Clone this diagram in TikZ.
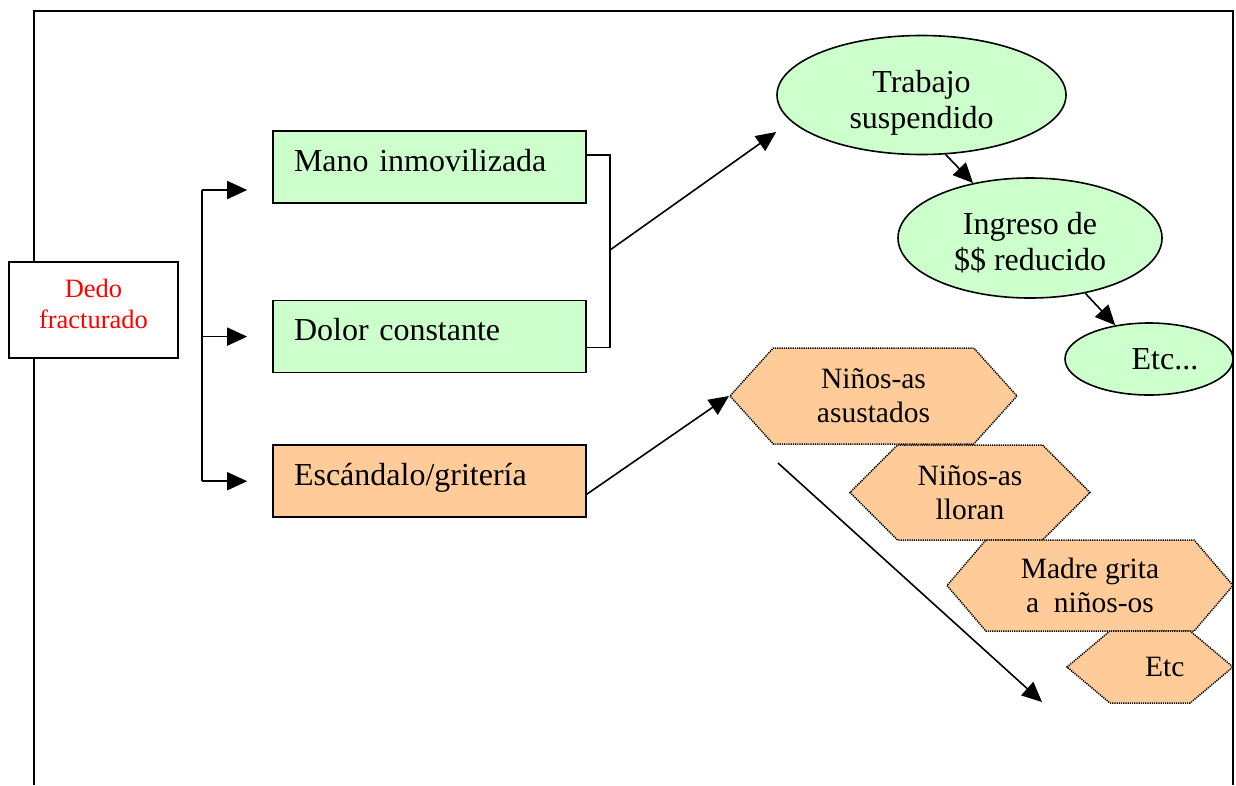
\documentclass[tikz,border=0pt]{standalone}
\usepackage{fontspec}
\setmainfont{Liberation Serif}
\usetikzlibrary{arrows.meta,positioning,shapes.geometric,shapes.symbols}

\definecolor{verde}{HTML}{CCFFCC}
\definecolor{naranja}{HTML}{FFCC99}

\begin{document}
\begin{tikzpicture}[x=1pt,y=-1pt,->,>={Triangle[length=20pt,width=18pt]},line width=1.6pt,
  root node/.style={rectangle,fill=white,draw,text=red,align=center,inner sep=0pt,
    minimum width=169pt,minimum height=96pt,font=\fontsize{26.5}{31}\selectfont},
  rec node/.style={rectangle,fill=verde,draw,align=left,inner xsep=21pt,text width=271pt,
    minimum height=72pt,text height=22pt,text depth=14pt,font=\fontsize{32}{36}\selectfont},
  ell node/.style={ellipse,fill=verde,draw,align=center,inner sep=0pt,
    font=\fontsize{32}{36}\selectfont},
  hex node/.style={signal,signal to=west and east,fill=naranja,draw,line width=1.5pt,
    dash pattern=on 1.2pt off 1pt,align=center,inner sep=0pt,font=\fontsize{29.5}{34}\selectfont}]

  \useasboundingbox (0,0) rectangle (1236,785);
  \draw[-,line width=2pt] (34,785) |- (1233,11) -- (1233,785);

  \node[root node] (dedo) at (93.5,310) {Dedo\\fracturado\rule[-12pt]{0pt}{0pt}};
  \node[rec node] (mano) at (429.5,167) {Mano inmovilizada};
  \node[rec node] (dolor) [below=96pt of mano] {Dolor constante};
  \node[rec node,fill=naranja] (grito) [below=71pt of dolor] {Escándalo/gritería};

  \node[ell node,minimum width=289pt,minimum height=119pt] (trabajo) at (921.5,95) {\rule{0pt}{38pt}Trabajo\\suspendido};
  \node[ell node,minimum width=264pt,minimum height=120pt] (ingreso) at (1030,238) {\rule{0pt}{32pt}Ingreso de\\\$\$ reducido};
  \node[ell node,minimum width=168pt,minimum height=72pt] (etc1) at (1149,359) {\hspace{1em}Etc...};

  \node[hex node,minimum width=287pt,minimum height=96pt,signal pointer angle=96] (ninos1) at (873.5,396) {Niños-as\\asustados};
  \node[hex node,minimum width=240pt,minimum height=95pt,signal pointer angle=90] (ninos2) at (970,492.5) {Niños-as\\lloran};
  \node[hex node,minimum width=286pt,minimum height=91pt,signal pointer angle=99] (madre) at (1090,585.5) {Madre grita\\a~~niños-os};
  \node[hex node,minimum width=166pt,minimum height=72pt,signal pointer angle=80] (etc2) at (1150,667) {\hspace{1em}Etc};

  % tronco y ramas
  \coordinate (t1) at (202,190);
  \draw[-] (t1) -- (t1 |- grito.west);
  \draw[shorten >=25pt] (t1) -- (mano.west |- t1);
  \draw[shorten >=25pt] (t1 |- dolor.west) -- (dolor.west);
  \draw[shorten >=25pt] (t1 |- grito.west) -- (grito.west);

  % corchete
  \coordinate (b1) at (610,250);
  \draw[-] ([yshift=12pt]mano.east) -| (b1) |- ([yshift=-11pt]dolor.east);
  \draw (b1) -- ([yshift=-37pt]trabajo.west);

  \draw (trabajo.-68) -- (ingreso.136);
  \draw (ingreso.-45) -- (etc1.135);
  \draw ([yshift=-13pt]grito.east) -- (ninos1.west);

  \coordinate (c1) at (778,463);
  \coordinate (c2) at (1042,702);
  \draw (c1) -- (c2);
\end{tikzpicture}
\end{document}
